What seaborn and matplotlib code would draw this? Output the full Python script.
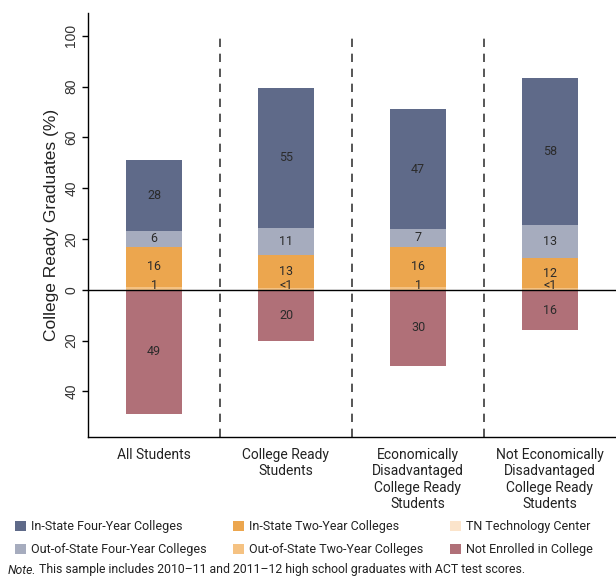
import numpy as np
import pandas as pd
import matplotlib
matplotlib.use("Agg")
import matplotlib.pyplot as plt
from matplotlib.patches import Patch
import seaborn as sns

# Data
groups = ["All Students",
          "College Ready\nStudents",
          "Economically\nDisadvantaged\nCollege Ready\nStudents",
          "Not Economically\nDisadvantaged\nCollege Ready\nStudents"]
out_state_2yr = [1, 0.5, 1, 0.5]
tn_tech = [0, 0, 0, 0]
in_state_2yr = [16, 13, 16, 12]
out_state_4yr = [6, 11, 7, 13]
in_state_4yr = [28, 55, 47, 58]
not_enrolled = [49, 20, 30, 16]
small_labels = ["1", "<1", "1", "<1"]

series_names = ["In-State Four-Year Colleges", "Out-of-State Four-Year Colleges",
                "In-State Two-Year Colleges", "Out-of-State Two-Year Colleges",
                "TN Technology Center", "Not Enrolled in College"]
colors = {"In-State Four-Year Colleges": "#5f6a89",
          "Out-of-State Four-Year Colleges": "#a6acbe",
          "In-State Two-Year Colleges": "#eca64e",
          "Out-of-State Two-Year Colleges": "#f5c282",
          "TN Technology Center": "#fbe4cb",
          "Not Enrolled in College": "#b07078"}

sns.set_style("white")
plt.rcParams["font.family"] = ["Roboto", "DejaVu Sans"]

df = pd.DataFrame({"group": groups})
# stacking from the zero line upward
stack = [("Out-of-State Two-Year Colleges", out_state_2yr),
         ("TN Technology Center", tn_tech),
         ("In-State Two-Year Colleges", in_state_2yr),
         ("Out-of-State Four-Year Colleges", out_state_4yr),
         ("In-State Four-Year Colleges", in_state_4yr)]
cum = np.zeros(len(groups))
tops = []
for name, vals in stack:
    bottom = cum.copy()
    cum = cum + np.array(vals, dtype=float)
    df[name] = cum
    tops.append((name, vals, bottom, cum.copy()))
df["Not Enrolled in College"] = -np.array(not_enrolled, dtype=float)

fig = plt.figure(figsize=(6.16, 5.77), dpi=100)
ax = fig.add_axes([88 / 616, 1 - 437 / 577, 1 - 88 / 616, (437 - 13) / 577])

bar_w = 0.42
# draw tallest cumulative layer first so the lower layers sit on top
for name, vals, bottom, top in reversed(tops):
    sns.barplot(data=df, x="group", y=name, color=colors[name], width=bar_w,
                saturation=1, errorbar=None, linewidth=0, ax=ax)
sns.barplot(data=df, x="group", y="Not Enrolled in College",
            color=colors["Not Enrolled in College"], width=bar_w,
            saturation=1, errorbar=None, linewidth=0, ax=ax)

txt_kw = dict(ha="center", va="center", fontsize=9, color="#2b2b2b")
for i in range(len(groups)):
    for name, vals, bottom, top in tops:
        if name in ("Out-of-State Two-Year Colleges", "TN Technology Center"):
            continue
        ax.text(i, (bottom[i] + top[i]) / 2, str(vals[i]), **txt_kw)
    ax.text(i, 1.8, small_labels[i], **txt_kw)
    ax.text(i, -not_enrolled[i] / 2, str(not_enrolled[i]), **txt_kw)

ymin, ymax = -58, 109
ax.set_ylim(ymin, ymax)
ax.set_xlim(-0.5, 3.5)
ax.axhline(0, color="black", lw=1)
ax.vlines([0.5, 1.5, 2.5], ymin, 100, colors="#3a3a3a", lw=1.2,
          linestyles=(0, (5, 4)))

yt = [-40, -20, 0, 20, 40, 60, 80, 100]
ax.set_yticks(yt)
ax.set_yticklabels([str(abs(v)) for v in yt], rotation=90, va="center",
                   fontsize=10, color="#333333", family=["Liberation Sans"])
ax.tick_params(axis="y", length=4, width=1, color="black", direction="out", left=True, pad=3)
ax.tick_params(axis="x", length=0, pad=8, labelsize=10, labelcolor="#222222")
ax.set_xlabel("")
ax.set_ylabel("College Ready Graduates (%)", fontsize=12.5, color="#222222",
              family=["Liberation Sans"], labelpad=4)
for s in ["top", "right"]:
    ax.spines[s].set_visible(False)
for s in ["left", "bottom"]:
    ax.spines[s].set_color("black")
    ax.spines[s].set_linewidth(1)

handles = [Patch(facecolor=colors[n], edgecolor="none") for n in series_names]
fig.legend(handles, series_names, loc="upper left", bbox_to_anchor=(15 / 616, 1 - 520 / 577),
           ncol=3, frameon=False, fontsize=9, handlelength=0.85, handleheight=0.85,
           handletextpad=0.45, columnspacing=2.1, labelspacing=0.8, borderpad=0,
           borderaxespad=0, labelcolor="#222222")

note1 = fig.text(8 / 616, 1 - 570 / 577, "Note.", fontsize=8.8, style="italic",
                 va="center", ha="left", color="#222222")
fig.canvas.draw()
bb = note1.get_window_extent()
fig.text(bb.x1 / fig.bbox.width, 1 - 570 / 577,
         " This sample includes 2010\u201311 and 2011\u201312 high school graduates with ACT test scores.",
         fontsize=8.8, va="center", ha="left", color="#222222")

fig.savefig("out.png", dpi=100)
